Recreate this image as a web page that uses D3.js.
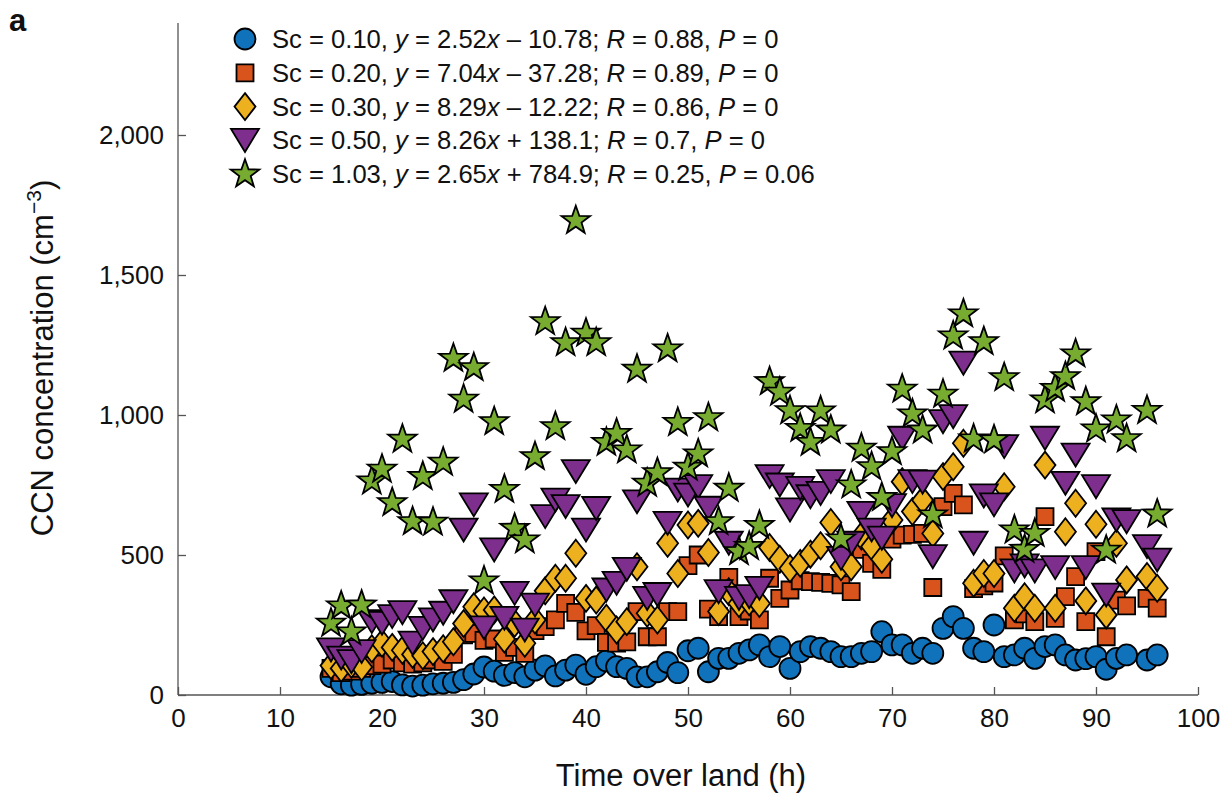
<!DOCTYPE html>
<html>
<head>
<meta charset="utf-8">
<script src="https://cdn.jsdelivr.net/npm/d3@7"></script>
<style>
  body { margin: 0; background: #fff; }
  text { font-family: "Liberation Sans", Arial, Helvetica, sans-serif; fill: #111; }
</style>
</head>
<body>
<script>
// hours over land (94 h has no sample)
var hours = [15,16,17,18,19,20,21,22,23,24,25,26,27,28,29,30,
  31,32,33,34,35,36,37,38,39,40,41,42,43,44,45,46,47,48,49,50,51,
  52,53,54,55,56,57,58,59,60,61,62,63,64,65,66,67,68,69,70,71,72,
  73,74,75,76,77,78,79,80,81,82,83,84,85,86,87,88,89,90,91,92,93,
  95,96];

var sc010 = [65,40,35,38,42,45,48,36,32,35,40,42,45,55,75,100,
  85,70,80,65,89,104,68,89,107,74,101,122,101,95,65,65,83,116,80,158,167,
  83,131,131,149,161,179,137,173,95,155,173,167,155,137,137,149,155,226,179,179,149,
  167,149,238,280,238,167,155,250,137,143,167,131,173,179,143,125,130,137,92,131,143,
  125,143];

var sc020 = [95,80,85,95,105,110,125,115,110,115,125,120,145,215,220,195,
  200,152,170,149,230,244,268,327,295,229,248,188,185,190,298,208,208,298,298,462,500,
  307,280,420,280,300,268,417,345,375,408,405,402,399,393,369,520,470,449,557,571,574,
  577,384,673,720,679,380,390,400,497,268,290,262,637,274,351,423,262,512,208,339,318,
  345,310];

var sc030 = [105,95,110,100,165,185,170,160,145,140,155,165,190,255,315,300,
  304,200,256,185,268,372,417,417,506,345,339,274,232,262,458,292,268,542,434,607,613,
  509,298,369,327,333,327,527,485,452,470,503,533,616,458,458,568,530,485,625,762,655,
  696,577,780,815,899,399,434,434,744,310,351,310,821,310,583,685,336,610,286,542,411,
  423,381];

var sc050 = [161,132,119,155,262,256,280,294,185,238,268,292,333,589,679,240,
  518,274,363,232,321,637,696,673,798,589,666,375,399,449,690,345,359,613,732,714,744,
  667,369,542,345,351,381,780,750,661,738,708,720,762,488,542,649,589,560,676,917,762,
  760,494,976,994,1185,542,711,679,887,443,461,443,917,455,756,857,455,744,357,625,619,
  530,482];

var sc103 = [256,318,225,321,764,806,687,913,619,780,617,831,1202,1056,1169,407,
  976,734,595,554,851,1333,958,1258,1694,1292,1258,902,934,875,1163,756,794,1236,973,813,861,
  990,619,738,512,530,605,1119,1081,1015,952,902,1014,946,557,750,881,815,705,869,1092,1004,
  946,643,1074,1282,1361,914,1262,911,1133,589,520,577,1054,1095,1137,1218,1047,950,517,982,915,
  1016,646];

var seriesNames = ["0.10","0.20","0.30","0.50","1.03"];
var fits = [["2.52","\u2013 10.78","0.88","0"],
            ["7.04","\u2013 37.28","0.89","0"],
            ["8.29","\u2013 12.22","0.86","0"],
            ["8.26","+ 138.1","0.7","0"],
            ["2.65","+ 784.9","0.25","0.06"]];
var colors = ["#0f72bb","#d9541c","#edb11f","#7e2f8e","#77ac30"];
var shapes = ["circle","square","diamond","triangle","star"];
var xTicks = [0,10,20,30,40,50,60,70,80,90,100];
var yTicks = [0,500,1000,1500,2000];

var W = 1222, H = 796;
var x0 = 178, x1 = 1198, yb = 695, yt = 23;

var svg = d3.select("body").append("svg")
    .attr("width", W).attr("height", H);

var x = d3.scaleLinear().domain([0, 100]).range([x0, x1]);
var y = d3.scaleLinear().domain([0, 2400]).range([yb, yt]);

// marker paths centred on 0,0
function markerPath(kind) {
  if (kind == "circle") return d3.symbol().type(d3.symbolCircle).size(Math.PI * 10.5 * 10.5)();
  if (kind == "square") return "M-8.5,-8.5H8.5V8.5H-8.5Z";
  if (kind == "diamond") return "M0,-13.5L10.5,0L0,13.5L-10.5,0Z";
  if (kind == "triangle") return "M-14,-11.5H14L0,11.5Z";
  // pentagram
  var R = 15, r = R * 0.40, p = [];
  for (var i = 0; i < 10; i++) {
    var a = -Math.PI / 2 + i * Math.PI / 5, rr = i % 2 ? r : R;
    p.push([rr * Math.cos(a), rr * Math.sin(a)]);
  }
  return "M" + p.map(function(d){ return d[0].toFixed(2) + "," + d[1].toFixed(2); }).join("L") + "Z";
}

// axes
var xAxis = svg.append("g")
    .attr("transform", "translate(0," + yb + ")")
    .call(d3.axisBottom(x).tickValues(xTicks).tickSize(-8).tickPadding(14).tickFormat(d3.format("d")));
var yAxis = svg.append("g")
    .attr("transform", "translate(" + x0 + ",0)")
    .call(d3.axisLeft(y).tickValues(yTicks).tickSize(-8).tickPadding(14).tickFormat(d3.format(",")));
[xAxis, yAxis].forEach(function(g){
  g.select(".domain").attr("stroke", "#555").attr("stroke-width", 1.3);
  g.selectAll(".tick line").attr("stroke", "#555").attr("stroke-width", 1.3);
  g.selectAll(".tick text").style("font-size", "26px").attr("fill", "#111");
});
xAxis.select(".domain").attr("d", "M" + x0 + ",0H" + x1);
yAxis.select(".domain").attr("d", "M0," + yb + "V" + yt);

// data
var allSeries = [sc010, sc020, sc030, sc050, sc103];
allSeries.forEach(function(vals, k){
  var pts = hours.map(function(h, i){ return {h: h, v: vals[i]}; });
  svg.append("g").selectAll("path")
    .data(pts)
    .enter().append("path")
      .attr("d", markerPath(shapes[k]))
      .attr("transform", function(d){ return "translate(" + x(d.h) + "," + y(d.v) + ")"; })
      .attr("fill", colors[k])
      .attr("stroke", "#000")
      .attr("stroke-width", 1.8);
});

// legend
var legend = svg.append("g");
seriesNames.forEach(function(name, k){
  var ly = 39 + k * 33.8;
  legend.append("path")
    .attr("d", markerPath(shapes[k]))
    .attr("transform", "translate(245," + ly + ")")
    .attr("fill", colors[k]).attr("stroke", "#000").attr("stroke-width", 1.8);
  var t = legend.append("text")
    .attr("x", 272).attr("y", ly + 9)
    .style("font-size", "25.6px");
  var f = fits[k];
  t.append("tspan").text("Sc = " + name + ", ");
  t.append("tspan").style("font-style", "italic").text("y");
  t.append("tspan").text(" = " + f[0]);
  t.append("tspan").style("font-style", "italic").text("x");
  t.append("tspan").text(" " + f[1] + "; ");
  t.append("tspan").style("font-style", "italic").text("R");
  t.append("tspan").text(" = " + f[2] + ", ");
  t.append("tspan").style("font-style", "italic").text("P");
  t.append("tspan").text(" = " + f[3]);
});

// axis titles
svg.append("text")
  .attr("x", 681).attr("y", 786)
  .attr("text-anchor", "middle")
  .style("font-size", "31px")
  .text("Time over land (h)");

var yl = svg.append("text")
  .attr("transform", "translate(53,358) rotate(-90)")
  .attr("text-anchor", "middle")
  .style("font-size", "31px");
yl.append("tspan").text("CCN concentration (cm");
yl.append("tspan").attr("dy", -12).style("font-size", "21px").text("\u22123");
yl.append("tspan").attr("dy", 12).text(")");

// panel letter
svg.append("text")
  .attr("x", 9).attr("y", 31)
  .style("font-size", "31px").style("font-weight", "bold")
  .text("a");
</script>
</body>
</html>
